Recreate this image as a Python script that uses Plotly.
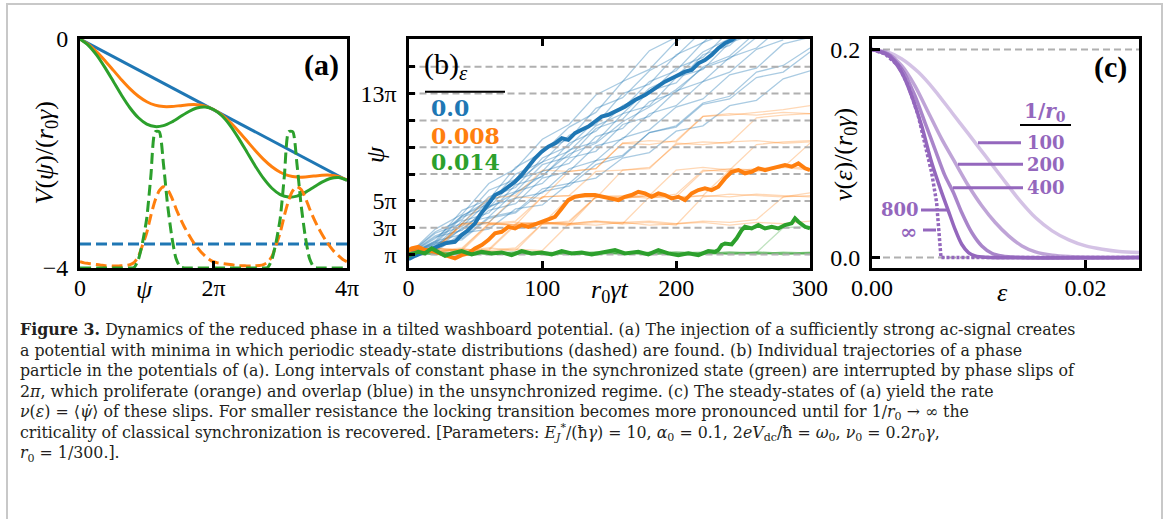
import math
import plotly.graph_objects as go

W, H = 1167, 519
def px(x): return x / W
def py(y): return 1 - y / H

PI = math.pi
BLUE, ORANGE, GREEN, PURPLE = '#1f77b4', '#ff7f0e', '#2ca02c', '#9467bd'
SERIF = 'Liberation Serif'
BOLD = 'DejaVu Serif'

# ---------------- panel (a) data ----------------
psi_V = [k * PI / 8 for k in range(33)]
V_blue = [0.0, -2.47]
psi_blue = [0.0, 4 * PI]
V_orange = [0.0, -0.095, -0.224, -0.379, -0.548, -0.717, -0.872, -1.001, -1.096, -1.155, -1.180,
            -1.179, -1.164, -1.149, -1.148, -1.173, -1.232, -1.326, -1.455, -1.610, -1.779, -1.948,
            -2.103, -2.232, -2.327, -2.386, -2.411, -2.410, -2.395, -2.380, -2.379, -2.404, -2.463]
V_green = [0.0, -0.110, -0.281, -0.500, -0.743, -0.987, -1.205, -1.376, -1.486, -1.530, -1.513,
           -1.449, -1.359, -1.270, -1.205, -1.188, -1.232, -1.341, -1.512, -1.731, -1.974, -2.218,
           -2.436, -2.607, -2.717, -2.761, -2.744, -2.680, -2.590, -2.501, -2.436, -2.419, -2.463]
psi_P = [j * PI / 16 for j in range(65)]
P_blue = [-3.58, -3.58]
P_orange = [-3.89, -3.91, -3.92, -3.93, -3.94, -3.95, -3.96, -3.96, -3.965, -3.965, -3.96, -3.955,
            -3.94, -3.90, -3.80, -3.60, -3.38, -3.08, -2.82, -2.65, -2.58, -2.63, -2.77, -2.96,
            -3.13, -3.28, -3.41, -3.53, -3.63, -3.72, -3.79, -3.85, -3.89,
            -3.91, -3.92, -3.93, -3.94, -3.95, -3.96, -3.96, -3.965, -3.965, -3.96, -3.955,
            -3.94, -3.90, -3.80, -3.60, -3.38, -3.08, -2.82, -2.65, -2.58, -2.63, -2.77, -2.96,
            -3.13, -3.28, -3.41, -3.53, -3.63, -3.72, -3.79, -3.85, -3.89]
P_green = [-4.0, -4.0, -4.0, -4.0, -4.0, -4.0, -4.0, -4.0, -4.0, -4.0, -4.0, -4.0, -4.0,
           -3.99, -3.85, -3.55, -3.13, -2.38, -1.62, -1.62, -2.18, -2.90, -3.45, -3.83, -3.98,
           -4.0, -4.0, -4.0, -4.0, -4.0, -4.0, -4.0, -4.0,
           -4.0, -4.0, -4.0, -4.0, -4.0, -4.0, -4.0, -4.0, -4.0, -4.0, -4.0, -4.0,
           -3.99, -3.85, -3.55, -3.13, -2.38, -1.62, -1.62, -2.18, -2.90, -3.45, -3.83, -3.98,
           -4.0, -4.0, -4.0, -4.0, -4.0, -4.0, -4.0, -4.0]

# ---------------- panel (b) data (psi in units of pi) ----------------
t_grid = list(range(0, 301, 20))
blue_thin = [
    [1.0, 2.9, 4.0, 6.3, 7.4, 9.6, 10.7, 12.9, 13.9, 16.2, 17.2, 19.0],
    [1.0, 2.0, 4.3, 5.1, 7.5, 8.6, 10.5, 11.6, 13.9, 14.8, 16.9, 18.0],
    [1.0, 2.7, 3.6, 5.8, 6.6, 8.8, 9.6, 11.9, 12.7, 14.7, 15.8, 17.7],
    [1.0, 1.9, 3.9, 4.8, 7.0, 7.9, 9.9, 10.7, 13.0, 13.7, 15.9, 16.8, 18.6],
    [1.0, 2.6, 3.3, 5.3, 6.0, 8.2, 9.1, 11.0, 11.9, 13.9, 14.7, 16.8, 17.6],
    [1.0, 1.8, 3.8, 4.5, 6.6, 7.2, 9.3, 10.2, 12.1, 13.0, 14.9, 15.7, 17.7],
    [1.0, 2.4, 3.1, 5.0, 5.7, 7.7, 8.3, 10.4, 11.1, 13.2, 13.8, 15.9, 16.6, 18.4],
    [1.0, 1.6, 3.5, 4.1, 6.2, 6.8, 8.8, 9.4, 11.5, 12.1, 14.2, 14.8, 16.8, 17.5],
    [1.0, 2.3, 2.8, 4.6, 5.2, 7.2, 7.8, 9.8, 10.4, 12.4, 13.1, 15.0, 15.8, 17.6],
    [1.0, 1.5, 3.3, 3.8, 5.7, 6.3, 8.2, 8.7, 10.7, 11.3, 13.2, 13.9, 15.7, 16.4, 18.1],
    [1.0, 2.0, 2.5, 4.3, 4.8, 6.7, 7.2, 9.1, 9.6, 11.5, 12.1, 13.9, 14.6, 16.3, 17.0],
    [1.0, 1.3, 3.0, 3.4, 5.2, 5.6, 7.4, 8.0, 9.7, 10.3, 12.0, 12.6, 14.4, 14.9, 16.7, 17.2],
    [1.0, 1.8, 2.2, 3.8, 4.2, 5.9, 6.3, 8.0, 8.4, 10.1, 10.5, 12.2, 12.6, 14.2, 14.6, 16.1],
    [1.0, 1.2, 2.6, 2.9, 4.4, 4.7, 6.3, 6.7, 8.2, 8.6, 10.2, 10.6, 12.1, 12.5, 14.1, 14.7],
    [1.0, 1.9, 2.1, 3.7, 4.1, 5.7, 6.1, 7.7, 8.3, 10.1, 10.6, 12.3, 12.8, 14.6, 15.1, 16.4],
    [1.0, 2.2, 3.9, 5.0, 6.4, 7.9, 8.7, 10.6, 11.5, 13.4, 14.3, 16.1, 17.1, 18.5],
    [1.0, 1.7, 2.9, 4.5, 5.6, 6.9, 8.5, 9.3, 10.9, 12.0, 13.3, 14.9, 15.6, 17.2],
]
orange_thin = [
    [1.3, 1.5, 3.3, 3.4, 5.3, 5.2, 7.2, 7.4, 9.3, 9.2, 9.5, 11.3, 11.4, 11.6, 11.8, 12.1],
    [1.3, 1.2, 1.4, 3.3, 3.2, 5.3, 5.4, 5.2, 7.3, 7.5, 9.2, 9.4, 9.3, 11.2, 11.4, 11.5],
    [1.3, 1.4, 3.2, 3.3, 3.5, 5.3, 5.4, 7.2, 7.3, 7.4, 9.3, 9.2, 9.4, 9.5, 9.3, 9.4],
    [1.3, 1.3, 1.2, 1.4, 3.3, 3.4, 3.2, 5.3, 5.2, 5.4, 7.3, 7.5, 7.3, 9.2, 9.4, 9.5],
    [1.3, 1.5, 1.3, 3.2, 3.4, 3.3, 3.5, 5.3, 5.4, 5.2, 5.5, 7.3, 7.2, 7.4, 7.6, 7.4],
    [1.3, 1.2, 3.3, 3.4, 3.2, 3.3, 5.2, 5.4, 5.3, 5.5, 5.3, 5.4, 7.3, 7.2, 7.5, 7.3],
    [1.3, 1.4, 1.3, 1.5, 1.3, 3.3, 3.2, 3.4, 3.3, 5.3, 5.2, 5.4, 5.3, 5.5, 5.4, 5.3],
    [1.3, 1.2, 1.4, 1.3, 3.2, 3.4, 3.3, 3.5, 3.3, 3.4, 3.2, 5.3, 5.5, 5.4, 5.3, 5.6],
    [1.3, 1.5, 1.3, 1.2, 1.4, 1.3, 3.3, 3.2, 3.4, 3.5, 3.3, 3.4, 3.2, 3.4, 3.3, 3.5],
    [1.3, 1.3, 1.5, 3.3, 3.2, 3.4, 3.3, 3.5, 3.4, 3.2, 3.3, 3.5, 3.4, 3.6, 5.3, 5.4],
    [1.3, 1.4, 3.3, 5.2, 5.4, 7.3, 7.2, 7.4, 9.3, 9.5, 9.4, 11.3, 11.5, 11.4, 11.6, 11.5],
    [1.3, 1.2, 1.4, 1.3, 1.5, 3.3, 3.4, 5.3, 5.2, 5.4, 5.3, 7.2, 7.4, 7.3, 7.5, 9.3],
]
green_thin = [
    [1.1, 1.2, 1.0, 1.15, 1.05, 1.2, 1.1, 1.0, 1.15, 1.1, 1.2, 1.05, 1.1, 1.15, 1.0, 1.1],
    [1.1, 1.0, 1.15, 1.05, 1.2, 1.0, 1.1, 1.2, 1.05, 1.15, 1.0, 1.1, 1.2, 1.05, 1.15, 1.05],
    [1.1, 1.15, 1.05, 1.2, 1.0, 1.1, 1.15, 1.05, 1.2, 1.0, 1.1, 1.15, 1.0, 1.2, 1.1, 1.15],
    [1.1, 1.05, 1.2, 1.1, 1.0, 1.15, 1.05, 1.1, 1.0, 1.2, 1.05, 1.15, 1.1, 1.0, 1.2, 1.1],
    [1.1, 1.2, 1.1, 1.0, 1.15, 1.05, 1.2, 1.15, 1.1, 1.0, 1.15, 1.2, 1.05, 1.1, 1.05, 1.2],
    [1.1, 1.0, 1.1, 1.2, 1.1, 1.0, 1.05, 1.2, 1.1, 1.15, 1.05, 1.0, 1.15, 1.2, 1.1, 1.0],
    [1.1, 1.15, 1.0, 1.1, 1.2, 1.1, 1.0, 1.15, 1.05, 1.1, 1.2, 1.1, 1.05, 1.15, 3.0, 3.1],
    [1.1, 1.05, 1.15, 1.0, 1.1, 1.2, 1.05, 1.1, 1.15, 1.0, 1.1, 1.05, 1.2, 1.1, 1.0, 1.15],
]
t_blue = [0, 1.1, 4.9, 12.3, 19.8, 27.3, 34.7, 39.7, 44.7, 49.7, 53.4, 59.6, 64.6, 69.6, 74.6, 79.6,
          84.6, 89.5, 94.5, 99.5, 104.5, 109.5, 114.5, 119.4, 124.4, 129.4, 134.4, 139.4, 144.3,
          149.3, 154.3, 161.7, 169.2, 176.7, 184.2, 191.6, 199.1, 206.6, 211.6, 216.6, 221.5,
          226.5, 231.5, 236.5, 241.5, 246.5]
psi_blue_thick = [0.8, 0.72, 0.91, 1.21, 1.46, 1.84, 1.95, 2.45, 2.83, 3.33, 3.95, 4.82, 5.44, 5.68,
                  6.06, 6.43, 6.93, 7.55, 8.18, 8.67, 9.05, 9.30, 9.67, 9.55, 10.05, 10.30, 10.54,
                  10.92, 11.29, 11.42, 11.65, 12.02, 12.52, 12.89, 13.39, 13.89, 14.26, 14.63, 14.76,
                  15.26, 15.50, 15.88, 16.38, 16.75, 17.00, 17.35]
t_orange = [0, 2.4, 7.3, 12.3, 19.8, 27.3, 34.7, 39.7, 44.7, 49.7, 54.7, 59.6, 64.6, 69.6, 74.6,
            79.6, 84.6, 89.5, 97.0, 104.5, 109.5, 114.5, 119.4, 124.4, 131.9, 139.4, 146.8, 151.8,
            156.8, 161.7, 166.7, 171.7, 176.7, 181.7, 186.7, 191.6, 196.6, 201.6, 206.6, 211.6,
            216.6, 221.5, 226.5, 231.5, 236.5, 241.5, 246.5, 251.4, 256.4, 261.4, 266.4, 271.4,
            276.3, 281.3, 286.3, 291.3, 296.3, 300]
psi_orange_thick = [1.3, 1.46, 1.58, 1.34, 1.21, 0.96, 0.72, 0.96, 1.09, 1.46, 1.71, 2.08, 2.58,
                    2.70, 3.07, 2.95, 3.20, 3.07, 3.33, 3.57, 3.82, 4.44, 5.06, 5.31, 5.44, 5.44,
                    5.31, 5.19, 5.06, 5.31, 5.44, 5.68, 5.56, 5.31, 5.56, 5.44, 5.19, 5.31, 5.06,
                    5.56, 5.81, 5.94, 5.81, 6.06, 6.68, 7.17, 7.30, 7.06, 7.17, 7.43, 7.30, 7.43,
                    7.55, 7.68, 7.55, 7.80, 7.43, 7.30]
t_green = [0, 1.1, 7.3, 12.3, 17.3, 22.3, 27.3, 32.3, 39.7, 47.2, 54.7, 62.1, 69.6, 77.1, 84.6,
           92.0, 99.5, 107.0, 114.5, 121.9, 129.4, 136.9, 146.8, 154.3, 161.7, 171.7, 179.2, 186.7,
           194.1, 201.6, 209.1, 216.6, 224.0, 228.9, 231.5, 234.0, 236.5, 241.5, 245.2, 249.0,
           251.4, 256.4, 261.4, 266.4, 271.4, 276.3, 281.3, 286.3, 288.8, 291.3, 296.3, 300]
psi_green_thick = [1.1, 0.96, 1.21, 1.09, 1.46, 1.21, 0.91, 1.09, 1.26, 1.01, 1.21, 1.09, 1.16,
                   0.96, 1.26, 1.09, 1.16, 1.01, 1.26, 1.09, 1.16, 1.01, 1.21, 1.34, 1.09, 1.21,
                   1.01, 1.34, 1.09, 0.96, 1.09, 0.96, 1.26, 1.21, 1.34, 1.71, 1.83, 1.76, 2.21,
                   2.83, 3.07, 2.95, 3.20, 2.95, 3.07, 2.95, 3.20, 3.33, 3.70, 3.45, 3.07, 2.95]
psi_levels = [1, 3, 5, 7, 9, 11, 13, 15]
psi_ticktext = ['π', '3π', '5π', '', '', '', '13π', '']
eps_legend = ['0.0', '0.008', '0.014']

# ---------------- panel (c) data ----------------
eps_100 = [0, 0.0015, 0.00276, 0.00433, 0.00589, 0.00746, 0.00903, 0.0106, 0.01216, 0.01373,
           0.0153, 0.01687, 0.01843, 0.02, 0.02157, 0.02314, 0.025]
nu_100 = [0.2, 0.1974, 0.1911, 0.1782, 0.1605, 0.1396, 0.1188, 0.0979, 0.077, 0.0562, 0.0385,
          0.0257, 0.017, 0.0112, 0.008, 0.0058, 0.0048]
eps_200 = [0, 0.0015, 0.00276, 0.00401, 0.00527, 0.00652, 0.00777, 0.00903, 0.01028, 0.01154,
           0.01279, 0.01404, 0.0153, 0.01687, 0.01843, 0.025]
nu_200 = [0.2, 0.1958, 0.1846, 0.1653, 0.1396, 0.114, 0.0915, 0.069, 0.0498, 0.0337, 0.0209,
          0.0112, 0.0055, 0.0022, 0.001, 0.0]
eps_400 = [0, 0.0015, 0.00276, 0.00401, 0.00495, 0.00589, 0.00683, 0.00762, 0.0084, 0.00934,
           0.01028, 0.01122, 0.01216, 0.01373, 0.025]
nu_400 = [0.2, 0.1952, 0.1814, 0.1557, 0.13, 0.1043, 0.0787, 0.0626, 0.0433, 0.0241, 0.0112,
          0.0042, 0.0016, 0.0003, 0.0]
eps_800 = [0, 0.0015, 0.00276, 0.0037, 0.00464, 0.00558, 0.00652, 0.00715, 0.00777, 0.0084,
           0.00903, 0.00966, 0.0106, 0.025]
nu_800 = [0.2, 0.1942, 0.1782, 0.1557, 0.1268, 0.0915, 0.0626, 0.0449, 0.0273, 0.0128, 0.0048,
          0.0016, 0.0003, 0.0]
eps_inf = [0, 0.00119, 0.00245, 0.00339, 0.00433, 0.00495, 0.00558, 0.00605, 0.00621, 0.00636,
           0.00646, 0.025]
nu_inf = [0.2, 0.1958, 0.1846, 0.1653, 0.1364, 0.1107, 0.0819, 0.053, 0.0273, 0.008, 0.0, 0.0]
r0_labels = ['100', '200', '400', '800', '∞']

fig = go.Figure()

def add(x, y, ax, **kw):
    fig.add_trace(go.Scatter(x=x, y=y, mode='lines', xaxis='x' + ax, yaxis='y' + ax,
                             showlegend=False, hoverinfo='skip', **kw))

# panel a
add(psi_blue, V_blue, '', line=dict(color=BLUE, width=3))
add(psi_V, V_orange, '', line=dict(color=ORANGE, width=3, shape='spline', smoothing=0.6))
add(psi_V, V_green, '', line=dict(color=GREEN, width=3, shape='spline', smoothing=0.6))
add(psi_blue, P_blue, '', line=dict(color=BLUE, width=3, dash='11px,5px'))
add(psi_P, P_orange, '', line=dict(color=ORANGE, width=3, dash='11px,5px', shape='spline', smoothing=0.6))
add(psi_P, P_green, '', line=dict(color=GREEN, width=3, dash='11px,5px', shape='spline', smoothing=0.6))

# panel b
for vals in blue_thin:
    add(t_grid[:len(vals)], vals, '2', line=dict(color='rgba(31,119,180,0.38)', width=1.3))
for vals in orange_thin:
    add(t_grid[:len(vals)], vals, '2', line=dict(color='rgba(255,127,14,0.3)', width=1.3))
for vals in green_thin:
    add(t_grid[:len(vals)], vals, '2', line=dict(color='rgba(44,160,44,0.3)', width=1.3))
for lev in psi_levels:
    add([0, 300], [lev, lev], '2', line=dict(color='#b0b0b0', width=2, dash='7px,4px'))
add(t_blue, psi_blue_thick, '2', line=dict(color=BLUE, width=4))
add(t_orange, psi_orange_thick, '2', line=dict(color=ORANGE, width=4))
add(t_green, psi_green_thick, '2', line=dict(color=GREEN, width=4))

# panel c
for lev in [0.0, 0.2]:
    add([0, 0.025], [lev, lev], '3', line=dict(color='#b0b0b0', width=2, dash='7px,4px'))
add(eps_100, nu_100, '3', line=dict(color='rgba(148,103,189,0.4)', width=3.5, shape='spline', smoothing=0.8))
add(eps_200, nu_200, '3', line=dict(color='rgba(148,103,189,0.6)', width=3.5, shape='spline', smoothing=0.8))
add(eps_400, nu_400, '3', line=dict(color='rgba(148,103,189,0.8)', width=3.5, shape='spline', smoothing=0.8))
add(eps_800, nu_800, '3', line=dict(color='rgba(148,103,189,1.0)', width=3.5, shape='spline', smoothing=0.8))
add(eps_inf, nu_inf, '3', line=dict(color=PURPLE, width=3.5, dash='3px,2px'))

tickfont = dict(family=SERIF, size=24, color='black')
def axis(domain, rng, tv, tt, mirror=True, ticklen=7, standoff=4):
    return dict(domain=domain, range=rng, tickvals=tv, ticktext=tt, showline=True, linecolor='black',
                linewidth=3, mirror=mirror, ticks='inside', ticklen=ticklen, tickwidth=2.5,
                tickcolor='black', showgrid=False, zeroline=False, tickfont=tickfont,
                automargin=False, fixedrange=True, ticklabelstandoff=standoff)

ydom = [py(268), py(39)]
fig.update_layout(
    width=W, height=H, margin=dict(l=0, r=0, t=0, b=0), autosize=False,
    paper_bgcolor='white', plot_bgcolor='white',
    xaxis=axis([px(80), px(347)], [0, 4 * PI], [0, 2 * PI, 4 * PI], ['0', '2π', '4π'], standoff=-4),
    yaxis=axis(ydom, [-4, 0], [-4, 0], ['−4', '0']),
    xaxis2=axis([px(408.5), px(810)], [0, 300], [0, 100, 200, 300], ['0', '100', '200', '300'],
                mirror='ticks', standoff=-4),
    yaxis2=axis(ydom, [0, 17.07], psi_levels, psi_ticktext, ticklen=6),
    xaxis3=axis([px(872), px(1139)], [0, 0.025], [0, 0.02], ['0.00', '0.02'], ticklen=8, standoff=-4),
    yaxis3=axis(ydom, [-0.01, 0.21], [0, 0.2], ['0.0', '0.2'], ticklen=8),
)
fig.layout.yaxis2.anchor = 'x2'
fig.layout.xaxis2.anchor = 'y2'
fig.layout.yaxis3.anchor = 'x3'
fig.layout.xaxis3.anchor = 'y3'

ann = []
def A(text, x, y, size, color='black', family=SERIF, xa='center', ya='middle', angle=0):
    ann.append(dict(text=text, x=px(x), y=py(y), xref='paper', yref='paper', showarrow=False,
                    xanchor=xa, yanchor=ya, textangle=angle,
                    font=dict(family=family, size=size, color=color)))

# axis titles
A('<i>V</i>(<i>ψ</i>)/(<i>r</i><sub>0</sub><i>γ</i>)', 46, 153.5, 26, angle=-90)
A('<i>ψ</i>', 144, 289, 26)
A('<i>ψ</i>', 375, 155, 26, angle=-90)
A('<i>r</i><sub>0</sub><i>γt</i>', 609, 291, 26)
A('<i>ν</i>(<i>ε</i>)/(<i>r</i><sub>0</sub><i>γ</i>)', 845, 155, 26, angle=-90)
A('<i>ε</i>', 1002, 292, 26)
# panel labels
A('<b>(a)</b>', 321, 65, 30)
A('(b)<sub><i>ε</i></sub>', 422, 45, 30, xa='left', ya='top')
A('<b>(c)</b>', 1110, 67, 30)
# legend (b)
for txt, col, y in zip(eps_legend, [BLUE, ORANGE, GREEN], [108, 136, 162]):
    A('<b>' + txt + '</b>', 429, y, 22, color=col, family=BOLD, xa='left')
# legend (c)
A('<b>1/<i>r</i><sub>0</sub></b>', 1045, 112, 20, color=PURPLE, family=BOLD)
for txt, x, y, xa, size in zip(r0_labels, [1025, 1025, 1025, 921, 920], [142, 164, 187.5, 209, 231],
                               ['left', 'left', 'left', 'right', 'right'], [18, 18, 18, 18, 21]):
    A('<b>' + txt + '</b>', x, y, size, color=PURPLE, family=BOLD, xa=xa)

caption = [
    '<b>Figure 3.</b> Dynamics of the reduced phase in a tilted washboard potential. (a) The injection of a sufficiently strong ac-signal creates',
    'a potential with minima in which periodic steady-state distributions (dashed) are found. (b) Individual trajectories of a phase',
    'particle in the potentials of (a). Long intervals of constant phase in the synchronized state (green) are interrupted by phase slips of',
    '2<i>π</i>, which proliferate (orange) and overlap (blue) in the unsynchronized regime. (c) The steady-states of (a) yield the rate',
    '<i>ν</i>(<i>ε</i>) = ⟨<i>ψ̇</i>⟩ of these slips. For smaller resistance the locking transition becomes more pronounced until for 1/<i>r</i><sub>0</sub> → ∞ the',
    'criticality of classical synchronization is recovered. [Parameters: <i>E</i><sub><i>J</i></sub><sup>*</sup>/(ħ<i>γ</i>) = 10, <i>α</i><sub>0</sub> = 0.1, 2<i>eV</i><sub>dc</sub>/ħ = <i>ω</i><sub>0</sub>, <i>ν</i><sub>0</sub> = 0.2<i>r</i><sub>0</sub><i>γ</i>,',
    '<i>r</i><sub>0</sub> = 1/300.].',
]
ann.append(dict(text='<br>'.join(caption), x=px(18), y=py(318), xref='paper', yref='paper',
                showarrow=False, xanchor='left', yanchor='top', align='left',
                font=dict(family='DejaVu Serif', size=15.8, color='#231f20')))
fig.update_layout(annotations=ann)

shapes = [
    dict(type='rect', xref='paper', yref='paper', x0=px(7), x1=px(1162), y0=py(4), y1=-0.05,
         line=dict(color='#c8c8c8', width=2)),
    dict(type='line', xref='paper', yref='paper', x0=px(425), x1=px(505), y0=py(91.7), y1=py(91.7),
         line=dict(color='black', width=2)),
    dict(type='line', xref='paper', yref='paper', x0=px(1020), x1=px(1071), y0=py(125), y1=py(125),
         line=dict(color='black', width=2)),
]
for x0, x1, y in [(978, 1021, 142.7), (958, 1023, 164.3), (953, 1023, 187.7), (921, 948, 210), (923, 936, 230)]:
    shapes.append(dict(type='line', xref='paper', yref='paper', x0=px(x0), x1=px(x1), y0=py(y), y1=py(y),
                       line=dict(color=PURPLE, width=3)))
fig.update_layout(shapes=shapes)

fig.write_html('out.html')
